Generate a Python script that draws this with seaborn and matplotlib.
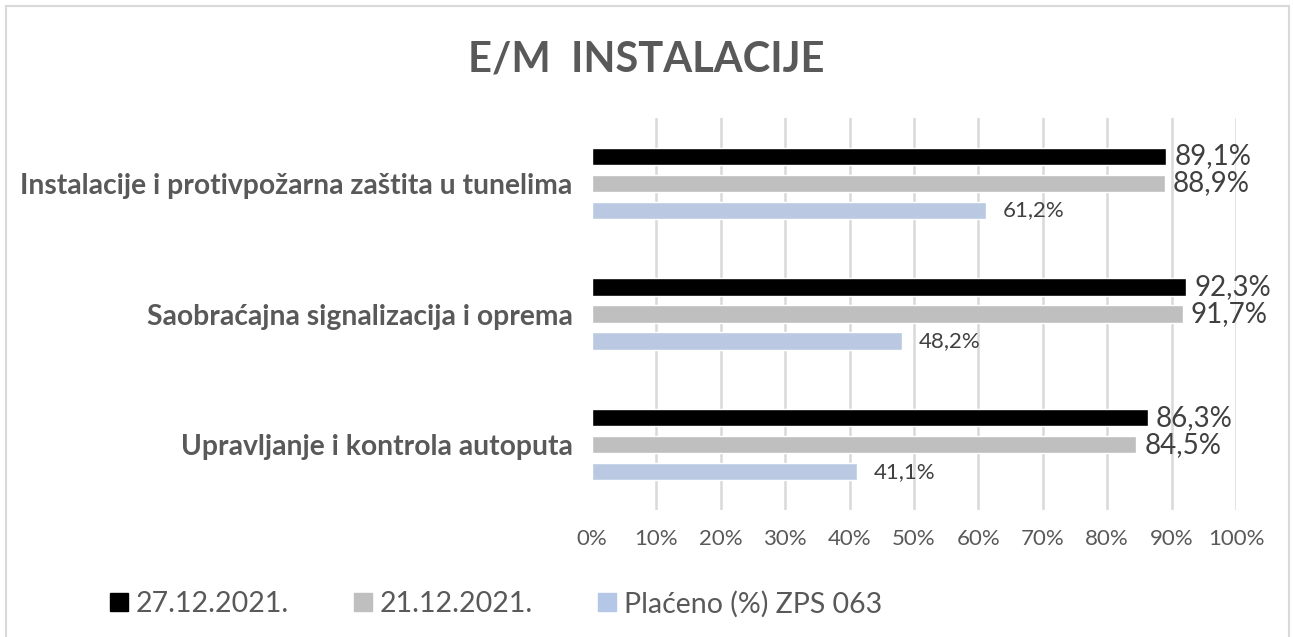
import matplotlib
matplotlib.use("Agg")
import matplotlib.pyplot as plt
import seaborn as sns
import pandas as pd
from matplotlib.lines import Line2D
from matplotlib.patches import Rectangle

# podaci
kategorije = ["Instalacije i protivpožarna zaštita u tunelima",
              "Saobraćajna signalizacija i oprema",
              "Upravljanje i kontrola autoputa"]
serije = ["27.12.2021.", "21.12.2021.", "Plaćeno (%) ZPS 063"]
vrijednosti_27 = [89.1, 92.3, 86.3]
vrijednosti_21 = [88.9, 91.7, 84.5]
placeno = [61.2, 48.2, 41.1]
boje = ["#000000", "#BFBFBF", "#B4C7E7"]
x_ticks = [0, 10, 20, 30, 40, 50, 60, 70, 80, 90, 100]

df = pd.DataFrame({
    "kategorija": kategorije * 3,
    "serija": [serije[0]] * 3 + [serije[1]] * 3 + [serije[2]] * 3,
    "vrijednost": vrijednosti_27 + vrijednosti_21 + placeno,
})

sns.set_theme(style="white")
plt.rcParams["font.family"] = ["Lato", "DejaVu Sans"]

W, H = 1293, 637
fig = plt.figure(figsize=(W / 100, H / 100), dpi=100)
ax = fig.add_axes([592 / W, (H - 510) / H, 644 / W, 392 / H])

sns.barplot(data=df, y="kategorija", x="vrijednost", hue="serija", orient="h",
            order=kategorije, hue_order=serije, palette=boje, width=0.62, gap=0.37,
            legend=False, ax=ax, zorder=3)

ax.set_xlim(0, 100)
ax.set_ylim(2.5, -0.5)
ax.set_xticks(x_ticks)
ax.set_xticklabels([f"{t}%" for t in x_ticks], color="#595959", fontsize=16)
ax.tick_params(axis="x", length=0, pad=14)
ax.tick_params(axis="y", length=0, pad=14)
for lbl in ax.get_yticklabels():
    lbl.set_fontweight("bold")
    lbl.set_fontsize(20.3)
    lbl.set_color("#595959")
ax.set_xlabel("")
ax.set_ylabel("")
for t in x_ticks[1:]:
    ax.axvline(t, color="#D9D9D9", lw=1.8, zorder=0)
for s in ax.spines.values():
    s.set_visible(False)

# oznake vrijednosti
velicine = [20, 20, 16]
razmaci = [6, 6, 12]
for cont, vel, raz in zip(ax.containers, velicine, razmaci):
    ax.bar_label(cont, labels=[f"{v:.1f}%".replace(".", ",") for v in cont.datavalues],
                 padding=raz, fontsize=vel, color="#404040")

fig.suptitle("E/M  INSTALACIJE", x=0.5, y=1 - 59 / H, va="center",
             fontsize=30, fontweight="bold", color="#595959")

handles = [Line2D([], [], marker="s", linestyle="none", markersize=13,
                  markerfacecolor=c, markeredgecolor=c) for c in boje]
fig.legend(handles, serije, loc="center left", bbox_to_anchor=(93 / W, 1 - 604 / H),
           ncol=3, frameon=False, fontsize=20.5, labelcolor="#595959",
           handlelength=0.8, handletextpad=0.2, columnspacing=2.2, borderpad=0)

fig.patches.append(Rectangle((6 / W, -0.05), (1289 - 6) / W, 1.05 - 6 / H + 0.0,
                             transform=fig.transFigure, fill=False,
                             edgecolor="#D9D9D9", lw=1.5))

fig.savefig("out.png", dpi=100)
